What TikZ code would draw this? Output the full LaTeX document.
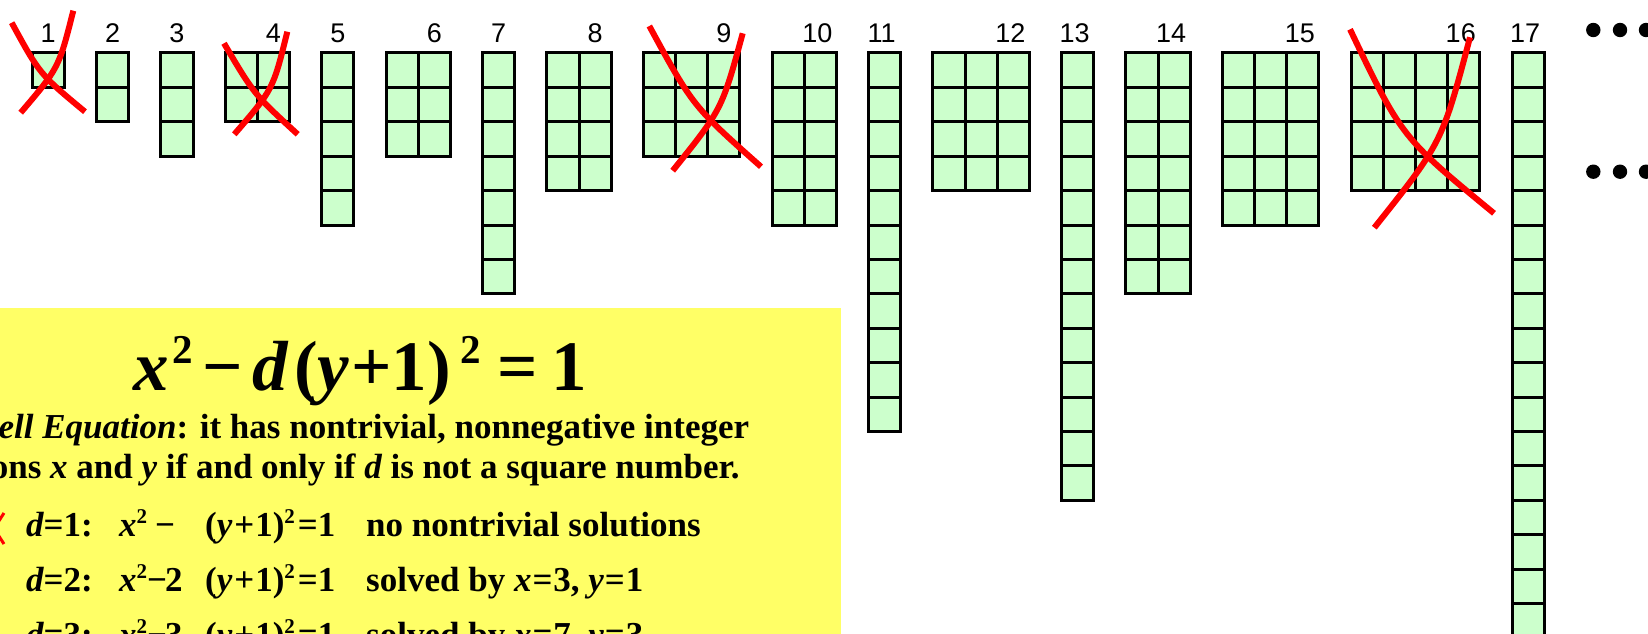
\documentclass[tikz,border=0pt]{standalone}
\usepackage{fontspec}
\setmainfont{Liberation Serif}
\newfontfamily\labelfont{Liberation Sans}
\definecolor{cellgreen}{RGB}{204,255,204}
\definecolor{slideyellow}{RGB}{255,255,102}
\newcommand\bi[1]{{\bfseries\itshape #1}}
\newcommand\sqr{\raisebox{13pt}{\fontsize{21}{21}\selectfont 2}}
\newcommand\bigsqr{\raisebox{27pt}{\fontsize{41}{41}\selectfont 2}}
\begin{document}
\begin{tikzpicture}[x=1pt,y=-1pt,
  cell/.style={draw=black,fill=cellgreen,line width=3pt},
  numlabel/.style={anchor=base,inner sep=0pt,font=\labelfont\fontsize{27}{27}\selectfont},
  redx/.style={draw=red,line width=6pt},
  txt/.style={anchor=base west,inner sep=0pt,font=\bfseries\fontsize{35}{35}\selectfont},
  eqtxt/.style={anchor=base west,inner sep=0pt,font=\bfseries\fontsize{71}{71}\selectfont}]
\useasboundingbox (0,0) rectangle (1648,634);
\clip (0,0) rectangle (1648,634);
\fill[white] (0,0) rectangle (1648,634);
\def\cellw{32.17}\def\cellh{34.4}\def\ytop{53}
% rectangles of unit squares
\foreach \kn/\kl/\kc/\kr in {1/1/1/1, 2/3/1/2, 3/5/1/3, 4/7/2/2, 5/10/1/5, 6/12/2/3, 7/15/1/7, 8/17/2/4, 9/20/3/3, 10/24/2/5, 11/27/1/11, 12/29/3/4, 13/33/1/13, 14/35/2/7, 15/38/3/5, 16/42/4/4, 17/47/1/17} {
  \foreach \ki in {1,...,\kc} {
    \foreach \kj in {1,...,\kr} {
      \draw[cell] ({(\kl+\ki-1)*\cellw},{\ytop+(\kj-1)*\cellh}) rectangle ++(\cellw,\cellh);
    }
  }
  \pgfmathsetmacro\lx{(\kl+\kc-0.5)*\cellw-(\kn>9 ? 3 : 0)}
  \node[numlabel] (lab\kn) at (\lx,43) {\kn};
}
% red crosses
\draw[redx] (11.7,22.7) .. controls (39.8,74.2) .. (85,111.7);
\draw[redx] (73.3,10.7) .. controls (58.9,67.8) .. (20.7,112.7);
\draw[redx] (224,43.3) .. controls (254.1,94.3) .. (297.7,134.3);
\draw[redx] (287.3,31.7) .. controls (273.1,89.4) .. (234.3,134.3);
\draw[redx] (649.3,26) .. controls (692.9,106.2) .. (761,166.7);
\draw[redx] (742.7,33.3) .. controls (722,109.3) .. (672.7,170.7);
\draw[redx] (1350,29.3) .. controls (1401.6,137.3) .. (1494,213.3);
\draw[redx] (1470,37.3) .. controls (1442.1,142.5) .. (1374.3,227.7);
% dots
\foreach \dx in {1593.3,1620,1646} {
  \fill (\dx,30) circle (7.2pt);
  \fill (\dx,171.7) circle (7.2pt);
}
% yellow panel
\fill[slideyellow] (-5,308) rectangle (841,640);
\node[eqtxt] (eq) at (133,390) {\bi{x}\kern4pt\bigsqr\kern9pt−\kern10pt\bi{d}\kern6pt(\bi{y}\kern2pt+1)\kern10pt\bigsqr\kern16pt=\kern14pt1};
\node[txt] (l1) at (-23,438) {\bi{Pell Equation}: it has nontrivial, nonnegative integer};
\node[txt] (l2) at (-91,478) {solutions \bi{x} and \bi{y} if and only if \bi{d} is not a square number.};
\draw[red,line width=3pt] (-16,513) -- (4,544);
\draw[red,line width=3pt] (4,513) -- (-16,544);
% d = 1
\node[txt] (r1a) at (26,536) {\bi{d}=1:};
\node[txt] (r1b) at (119,536) {\bi{x}\sqr\kern8pt−};
\node[txt] (r1c) at (205,536) {(\bi{y}\kern2pt+\kern1pt1)\sqr\kern3pt=1};
\node[txt] (r1d) at (366,536) {no nontrivial solutions};
% d = 2
\node[txt] (r2a) at (26,591) {\bi{d}=2:};
\node[txt] (r2b) at (119,591) {\bi{x}\sqr−\kern-2pt2};
\node[txt] (r2c) at (205,591) {(\bi{y}\kern2pt+\kern1pt1)\sqr\kern3pt=1};
\node[txt] (r2d) at (366,591) {solved by \bi{x}\kern1pt=\kern1pt3, \bi{y}\kern1pt=\kern1pt1};
% d = 3
\node[txt] (r3a) at (26,646) {\bi{d}=3:};
\node[txt] (r3b) at (119,646) {\bi{x}\sqr−\kern-2pt3};
\node[txt] (r3c) at (205,646) {(\bi{y}\kern2pt+\kern1pt1)\sqr\kern3pt=1};
\node[txt] (r3d) at (366,646) {solved by \bi{x}\kern1pt=\kern1pt7, \bi{y}\kern1pt=\kern1pt3};
\end{tikzpicture}
\end{document}
